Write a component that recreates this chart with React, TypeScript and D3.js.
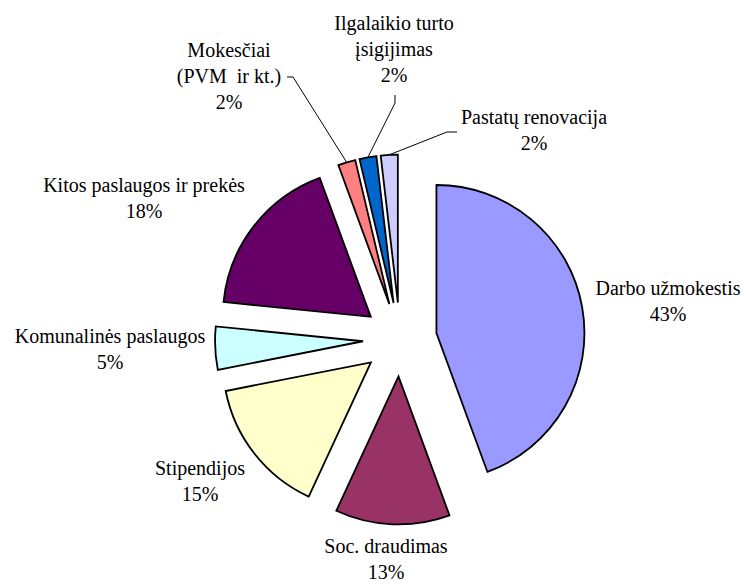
import React, { useRef, useEffect } from 'react';
import * as d3 from 'd3';

const categories = [
  'Darbo užmokestis',
  'Soc. draudimas',
  'Stipendijos',
  'Komunalinės paslaugos',
  'Kitos paslaugos ir prekės',
  'Mokesčiai\n(PVM  ir kt.)',
  'Ilgalaikio turto\nįsigijimas',
  'Pastatų renovacija'
];
// slice sizes (the printed percentages differ slightly)
const values = [44.4, 12.5, 15.0, 4.7, 17.8, 1.9, 1.85, 1.85];
const percentLabels = ['43%', '13%', '15%', '5%', '18%', '2%', '2%', '2%'];
const colors = ['#9999FF', '#993366', '#FFFFCC', '#CCFFFF', '#660066', '#FF8080', '#0066CC', '#CCCCFF'];

// label anchor (centre x, first baseline y), set by hand like in the source chart
const labelPos: [number, number][] = [
  [668, 295], [386, 553], [200, 475], [110, 343],
  [144, 192], [229, 57], [394, 30], [534, 124]
];
// leader line start points (polyline before reaching the slice), null = no leader
const leaders: ([number, number][] | null)[] = [
  null, null, null, null, null,
  [[287, 77], [293, 77]],
  [[395, 95], [395, 103]],
  [[457, 132], [447, 132]]
];

export default function App() {
  const svgRef = useRef<SVGSVGElement>(null);
  const width = 747;
  const height = 584;

  useEffect(() => {
    const svg = d3.select(svgRef.current);
    svg.selectAll('*').remove();

    const cx = 400;
    const cy = 339.5;
    const radius = 148;
    const explode = 37;

    const pie = d3.pie<number>().sort(null).value(d => d);
    const arcs = pie(values);
    const arc = d3.arc<d3.PieArcDatum<number>>().innerRadius(0).outerRadius(radius);

    const g = svg.append('g').attr('transform', `translate(${cx},${cy})`);

    const mid = (d: d3.PieArcDatum<number>) => (d.startAngle + d.endAngle) / 2;

    g.selectAll('path.slice')
      .data(arcs)
      .enter()
      .append('path')
      .attr('class', 'slice')
      .attr('d', arc)
      .attr('transform', d => `translate(${Math.sin(mid(d)) * explode},${-Math.cos(mid(d)) * explode})`)
      .attr('fill', (d, i) => colors[i])
      .attr('stroke', '#000')
      .attr('stroke-width', 1.8)
      .attr('stroke-linejoin', 'miter');

    // leader lines
    arcs.forEach((d, i) => {
      const pts = leaders[i];
      if (!pts) return;
      const a = mid(d);
      const end: [number, number] = [
        cx + Math.sin(a) * (explode + radius),
        cy - Math.cos(a) * (explode + radius)
      ];
      svg.append('path')
        .attr('d', d3.line()([...pts, end]))
        .attr('fill', 'none')
        .attr('stroke', '#000')
        .attr('stroke-width', 1);
    });

    // labels
    const labels = svg.append('g')
      .style('font-family', "'Liberation Serif', 'DejaVu Serif', serif")
      .style('font-size', '20px')
      .attr('fill', '#000')
      .attr('text-anchor', 'middle');

    arcs.forEach((d, i) => {
      const lines = categories[i].split('\n').concat(percentLabels[i]);
      const [lx, ly] = labelPos[i];
      const t = labels.append('text').attr('x', lx).attr('y', ly).style('white-space', 'pre');
      lines.forEach((ln, j) => {
        t.append('tspan').attr('x', lx).attr('dy', j === 0 ? 0 : 26).text(ln);
      });
    });
  }, []);

  return (
    <svg
      ref={svgRef}
      width={width}
      height={height}
      style={{ position: 'absolute', left: 0, top: 0, background: '#fff' }}
    />
  );
}
